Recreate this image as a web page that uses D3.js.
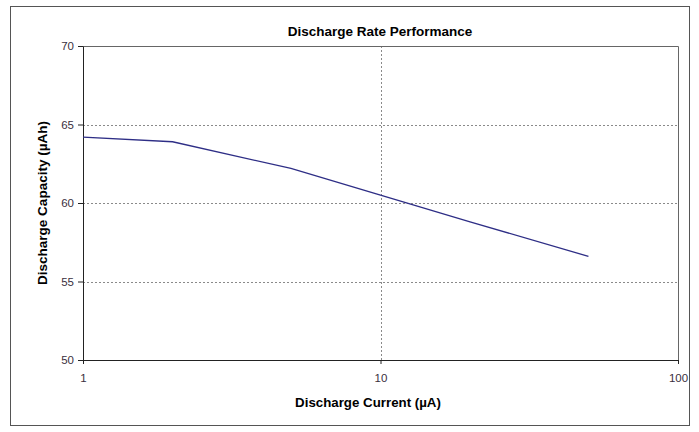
<!DOCTYPE html>
<html>
<head>
<meta charset="utf-8">
<script src="https://cdn.jsdelivr.net/npm/d3@7"></script>
<style>
  body { margin: 0; background: #fff; }
  text { font-family: "Liberation Sans", Arial, sans-serif; }
</style>
</head>
<body>
<div id="chart"></div>
<script>
// discharge current (uA) and capacity (uAh)
const currents = [1, 2, 5, 10, 20, 50];
const capacities = [64.2, 63.9, 62.2, 60.5, 58.8, 56.6];
const xTicks = [1, 10, 100];
const yTicks = [50, 55, 60, 65, 70];

const width = 699, height = 432;
const margin = { top: 46, right: 21, bottom: 72, left: 83 };
const innerW = width - margin.left - margin.right;
const innerH = height - margin.top - margin.bottom;

const svg = d3.select('#chart').append('svg')
  .attr('width', width)
  .attr('height', height);

// outer frame
svg.append('rect')
  .attr('x', 10.5).attr('y', 6.5)
  .attr('width', 679).attr('height', 419)
  .attr('fill', '#fff')
  .attr('stroke', '#555')
  .attr('stroke-width', 1);

const plot = svg.append('g')
  .attr('transform', `translate(${margin.left},${margin.top})`);

const x = d3.scaleLog().domain([1, 100]).range([0, innerW]);
const y = d3.scaleLinear().domain([50, 70]).range([innerH, 0]);

// grid lines
plot.selectAll('.hgrid')
  .data(yTicks.filter(d => d > 50 && d < 70))
  .enter().append('line')
  .attr('x1', 0).attr('x2', innerW)
  .attr('y1', d => Math.round(y(d)) + 0.5)
  .attr('y2', d => Math.round(y(d)) + 0.5)
  .attr('stroke', '#8a8a8a')
  .attr('stroke-dasharray', '2,2');

plot.selectAll('.vgrid')
  .data(xTicks.filter(d => d > 1 && d < 100))
  .enter().append('line')
  .attr('x1', d => Math.round(x(d)) + 0.5)
  .attr('x2', d => Math.round(x(d)) + 0.5)
  .attr('y1', 0).attr('y2', innerH)
  .attr('stroke', '#8a8a8a')
  .attr('stroke-dasharray', '2,2');

// plot border (top / right)
plot.append('path')
  .attr('d', `M0.5,0.5H${innerW + 0.5}V${innerH}`)
  .attr('fill', 'none')
  .attr('stroke', '#666');

// axes
const xAxis = d3.axisBottom(x)
  .tickValues(xTicks)
  .tickFormat(d3.format('d'))
  .tickSize(4)
  .tickPadding(10);

const yAxis = d3.axisLeft(y)
  .tickValues(yTicks)
  .tickSize(5)
  .tickPadding(4);

const gx = plot.append('g')
  .attr('transform', `translate(0,${innerH})`)
  .call(xAxis);
const gy = plot.append('g')
  .call(yAxis);

[gx, gy].forEach(g => {
  g.select('.domain').attr('stroke', '#222');
  g.selectAll('.tick line').attr('stroke', '#222');
  g.selectAll('.tick text')
    .attr('fill', '#3a3040')
    .style('font-size', '11.5px');
});

// the data line
const line = d3.line()
  .x((d, i) => x(currents[i]))
  .y(d => y(d));

plot.append('path')
  .datum(capacities)
  .attr('fill', 'none')
  .attr('stroke', '#2e2e86')
  .attr('stroke-width', 1.3)
  .attr('d', line);

// titles
svg.append('text')
  .attr('x', 380)
  .attr('y', 36)
  .attr('text-anchor', 'middle')
  .style('font-size', '13.5px')
  .style('font-weight', 'bold')
  .text('Discharge Rate Performance');

svg.append('text')
  .attr('x', 368)
  .attr('y', 407)
  .attr('text-anchor', 'middle')
  .style('font-size', '13.3px')
  .style('font-weight', 'bold')
  .text('Discharge Current (µA)');

svg.append('text')
  .attr('transform', `translate(47,${margin.top + innerH / 2}) rotate(-90)`)
  .attr('text-anchor', 'middle')
  .style('font-size', '13.5px')
  .style('font-weight', 'bold')
  .text('Discharge Capacity (µAh)');
</script>
</body>
</html>
